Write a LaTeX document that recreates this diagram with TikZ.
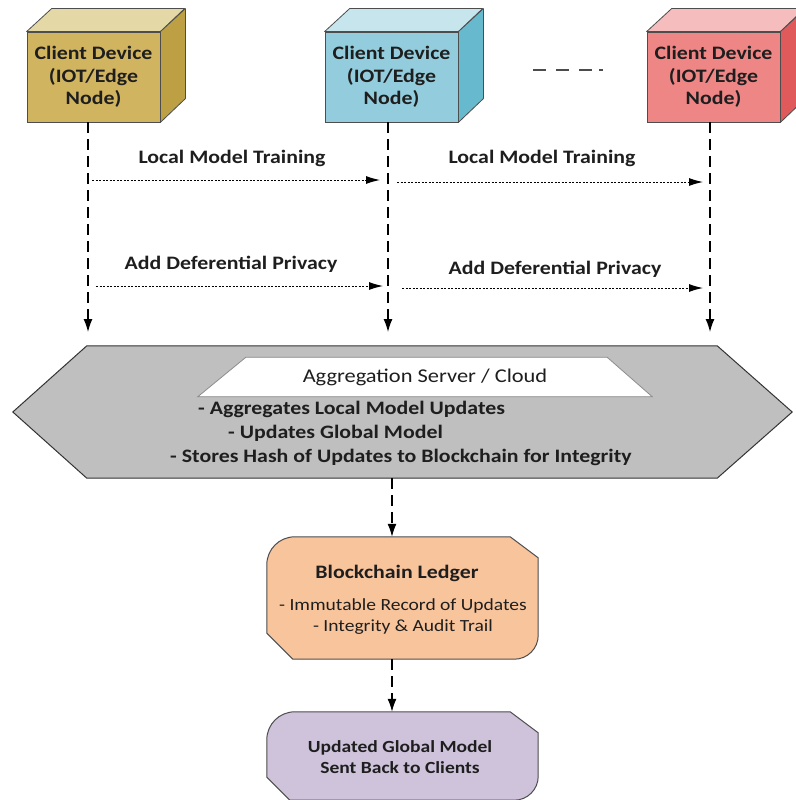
\documentclass[tikz,border=0pt]{standalone}
\usepackage{fontspec}
\setmainfont{Carlito}[FakeStretch=1.15]
\usetikzlibrary{positioning,shapes.geometric,calc,arrows.meta}

\definecolor{goldFront}{HTML}{D1B460}
\definecolor{goldTop}{HTML}{E4D9A6}
\definecolor{goldSide}{HTML}{BDA043}
\definecolor{skyFront}{HTML}{93CDDD}
\definecolor{skyTop}{HTML}{C6E5ED}
\definecolor{skySide}{HTML}{67B9CD}
\definecolor{roseFront}{HTML}{EE8686}
\definecolor{roseTop}{HTML}{F5BDBD}
\definecolor{roseSide}{HTML}{E05A5C}
\definecolor{hexFill}{HTML}{BFBFBF}
\definecolor{hexEdge}{HTML}{333333}
\definecolor{trapEdge}{HTML}{8C8C8C}
\definecolor{ledgerFill}{HTML}{F8C49C}
\definecolor{globalFill}{HTML}{CFC3DC}
\definecolor{edgeGray}{HTML}{4D4D4D}
\definecolor{inkBlack}{HTML}{1E1E1E}

\begin{document}
\begin{tikzpicture}[x=1pt, y=-1pt,
  cubeface/.style={draw=edgeGray, line width=0.8pt, minimum width=133pt, minimum height=90pt,
    inner sep=0pt, align=center, font=\fontsize{19}{22.5}\selectfont\bfseries, text=inkBlack},
  cubeedge/.style={draw=edgeGray, line width=0.8pt, line join=round},
  lifeline/.style={line width=1.3pt, dash pattern=on 11pt off 6pt, -{Latex[length=13pt,width=9pt]}},
  msg/.style={line width=1pt, dash pattern=on 2pt off 1.5pt, -{Latex[length=14pt,width=8pt]}},
  lbl/.style={font=\fontsize{19}{22}\selectfont\bfseries, text=inkBlack, inner sep=0pt},
  item/.style={font=\fontsize{19}{24}\selectfont\bfseries, text=inkBlack, inner sep=0pt, anchor=mid west},
  area/.style={inner sep=0pt},
  boxline/.style={draw=edgeGray, line width=1pt},
]
\useasboundingbox (0,0) rectangle (795,800);

% client devices
\node (dev1) [cubeface, fill=goldFront] at (93.5,77) {Client Device\\(IOT/Edge\\Node)};
\node (dev2) [cubeface, fill=skyFront] at (391.5,77) {Client Device\\(IOT/Edge\\Node)};
\node (dev3) [cubeface, fill=roseFront] at (713.5,77) {Client Device\\(IOT/Edge\\Node)};
\foreach \dev/\col in {dev1/gold, dev2/sky, dev3/rose} {
  \filldraw[cubeedge, fill=\col Top] (\dev.north west) -- ++(25,-23) -- ++(133,0) -- (\dev.north east) -- cycle;
  \filldraw[cubeedge, fill=\col Side] (\dev.north east) -- ++(25,-23) -- ++(0,90) -- (\dev.south east) -- cycle;
}
\coordinate (more1) at (533,70);
\coordinate (more2) at (604,70);
\draw[line width=2pt, draw=black!70, dash pattern=on 13pt off 10pt on 13pt off 10pt on 13pt off 7pt on 4pt off 10pt] (more1) -- (more2);

% lifelines
\coordinate (tip1) at (88,332);
\coordinate (tip2) at (388,332);
\coordinate (tip3) at (710,332);
\foreach \i in {1,2,3}
  \draw[lifeline] (dev\i.south -| tip\i) -- (tip\i);

% local steps
\node (train1) [lbl] at (232,158) {Local Model Training};
\node (train2) [lbl] at (542,158) {Local Model Training};
\node (priv1) [lbl] at (231,264) {Add Deferential Privacy};
\node (priv2) [lbl] at (555,269) {Add Deferential Privacy};
\coordinate (train1s) at (92,180);  \coordinate (train1e) at (380,180);
\coordinate (train2s) at (397,182); \coordinate (train2e) at (703,182);
\coordinate (priv1s) at (96,286);   \coordinate (priv1e) at (383,286);
\coordinate (priv2s) at (402,288);  \coordinate (priv2e) at (703,288);
\draw[msg] (train1s) -- (train1e);
\draw[msg] (train2s) -- (train2e);
\draw[msg] (priv1s) -- (priv1e);
\draw[msg] (priv2s) -- (priv2e);

% aggregation server
\node (agg) [area, minimum width=630pt, minimum height=132pt] at (402,412) {};
\filldraw[draw=hexEdge, line width=1pt, fill=hexFill]
  (agg.north west) -- (agg.north east) -- ($(agg.east)+(75,0)$) -- (agg.south east)
  -- (agg.south west) -- ($(agg.west)+(-74,0)$) -- cycle;
\node (srvbox) [area, minimum width=454pt, minimum height=39pt] at (425,377) {};
\filldraw[draw=trapEdge, line width=0.8pt, fill=white]
  ([xshift=48pt]srvbox.north west) -- ([xshift=-45pt]srvbox.north east)
  -- (srvbox.south east) -- (srvbox.south west) -- cycle;
\node (srv) [font=\fontsize{19.5}{22}\selectfont, text=inkBlack, inner sep=0pt] at (srvbox.center) {Aggregation Server / Cloud};
\node (upd1) [item] at (198,412) {- Aggregates Local Model Updates};
\node (upd2) [item] at (228,436) {- Updates Global Model};
\node (upd3) [item] at (170,460) {- Stores Hash of Updates to Blockchain for Integrity};

% blockchain ledger
\node (ledger) [area, minimum width=271pt, minimum height=122pt] at (402.5,598) {};
\filldraw[boxline, fill=ledgerFill]
  ([xshift=28pt]ledger.north west) -- ([xshift=-28pt]ledger.north east) -- ([yshift=-21pt]ledger.north east)
  -- ([yshift=24pt]ledger.south east) .. controls ([yshift=10.7pt]ledger.south east) and ([xshift=-10.7pt]ledger.south east) .. ([xshift=-24pt]ledger.south east)
  -- ([xshift=26pt]ledger.south west) -- ([yshift=26pt]ledger.south west)
  -- ([yshift=-28pt]ledger.north west) .. controls ([yshift=-12.5pt]ledger.north west) and ([xshift=12.5pt]ledger.north west) .. ([xshift=28pt]ledger.north west) -- cycle;
\node (ledgerttl) [lbl] at (397,573) {Blockchain Ledger};
\node (ledgertxt) [font=\fontsize{17}{21}\selectfont, align=center, inner sep=0pt, text=inkBlack]
  at (403,617) {- Immutable Record of Updates\\- Integrity \& Audit Trail};

% updated global model
\node (global) [area, minimum width=271pt, minimum height=88pt] at (402.5,756) {};
\filldraw[boxline, fill=globalFill]
  ([xshift=28pt]global.north west) -- ([xshift=-28pt]global.north east) -- ([yshift=-21pt]global.north east)
  -- ([yshift=24pt]global.south east) .. controls ([yshift=10.7pt]global.south east) and ([xshift=-10.7pt]global.south east) .. ([xshift=-24pt]global.south east)
  -- ([xshift=23pt]global.south west) -- ([yshift=23pt]global.south west)
  -- ([yshift=-28pt]global.north west) .. controls ([yshift=-12.5pt]global.north west) and ([xshift=12.5pt]global.north west) .. ([xshift=28pt]global.north west) -- cycle;
\node (globaltxt) [font=\fontsize{17}{21}\selectfont\bfseries, align=center, inner sep=0pt, text=inkBlack]
  at (400,757) {Updated Global Model\\ Sent Back to Clients};

\coordinate (spine) at (392,0);
\draw[lifeline] (agg.south -| spine) -- (ledger.north -| spine);
\draw[lifeline] (ledger.south -| spine) -- (global.north -| spine);
\end{tikzpicture}
\end{document}
